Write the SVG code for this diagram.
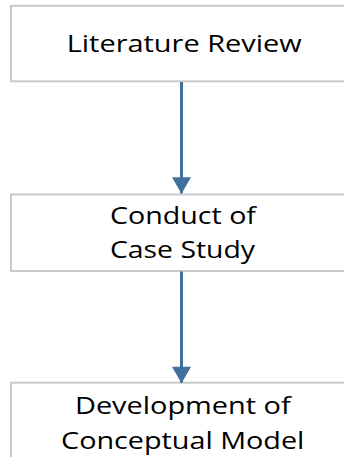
<svg xmlns="http://www.w3.org/2000/svg" width="344" height="457" viewBox="0 0 344 457">
<style>
.box{fill:#ffffff;stroke:#c9c9c9;stroke-width:2}
.lbl{font-family:"Open Sans","Noto Sans","Liberation Sans",sans-serif;font-size:24.5px;fill:#000000;text-anchor:middle}
.conn{stroke:#41709f;stroke-width:3;fill:none}
</style>
<defs>
<marker id="ah" markerUnits="userSpaceOnUse" markerWidth="22" markerHeight="19" refX="18.5" refY="11" orient="auto" viewBox="0 0 19 22">
<path d="M0,0 L19,11 L0,22 Z" fill="#41709f"/>
</marker>
</defs>
<rect width="344" height="457" fill="#ffffff"/>
<g id="node-literature-review">
<rect class="box" x="11" y="5.8" width="344" height="75.5"/>
<text class="lbl" x="184.2" y="52.3" textLength="235" lengthAdjust="spacingAndGlyphs">Literature Review</text>
</g>
<g id="node-case-study">
<rect class="box" x="11" y="194.5" width="344" height="76.5"/>
<text class="lbl" x="183" y="224.3" textLength="146" lengthAdjust="spacingAndGlyphs">Conduct of</text>
<text class="lbl" x="182.5" y="258.3" textLength="145" lengthAdjust="spacingAndGlyphs">Case Study</text>
</g>
<g id="node-conceptual-model">
<rect class="box" x="11" y="382.7" width="344" height="90"/>
<text class="lbl" x="182.8" y="414.3" textLength="215.7" lengthAdjust="spacingAndGlyphs">Development of</text>
<text class="lbl" x="182.7" y="449.3" textLength="243.3" lengthAdjust="spacingAndGlyphs">Conceptual Model</text>
</g>
<g id="connectors">
<line class="conn" x1="181.5" y1="82" x2="181.5" y2="193.3" marker-end="url(#ah)"/>
<line class="conn" x1="181.5" y1="271.5" x2="181.5" y2="382.7" marker-end="url(#ah)"/>
</g>
</svg>
